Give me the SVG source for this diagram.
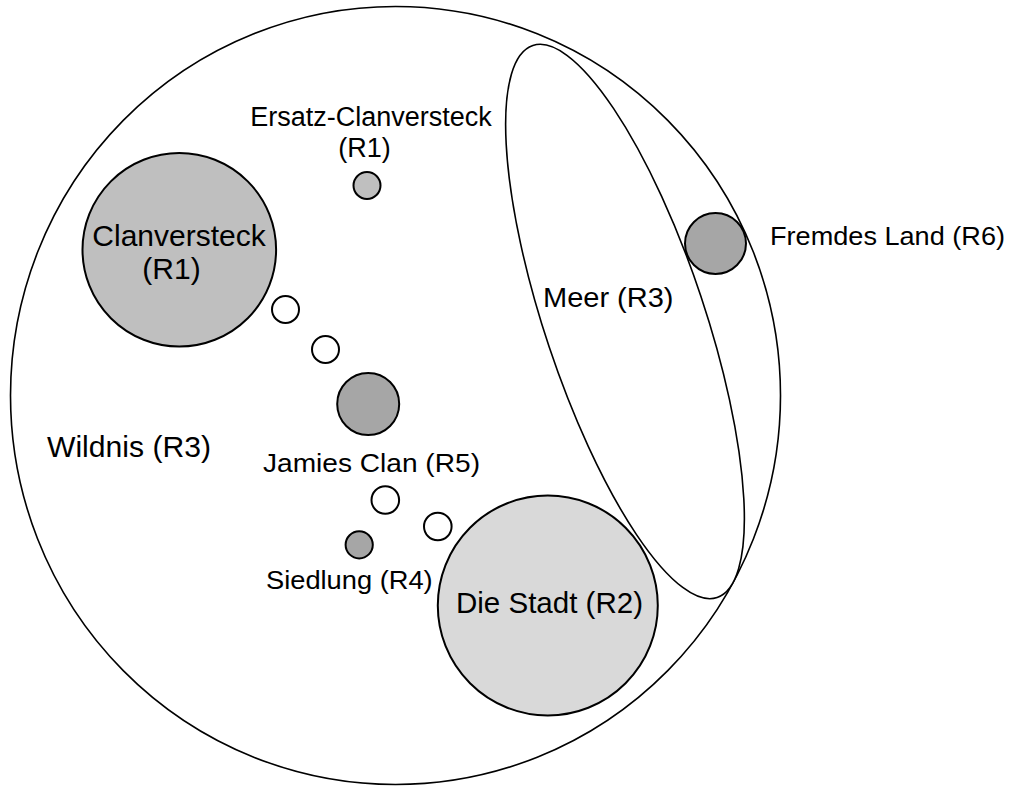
<svg xmlns="http://www.w3.org/2000/svg" width="1011" height="789" viewBox="0 0 1011 789">
<style>
.ln{stroke:#000;stroke-width:2;}
.thin{stroke-width:1.6;}
.w{fill:#fff;}
.g1{fill:#bfbfbf;}
.g2{fill:#a6a6a6;}
.g3{fill:#d9d9d9;}
text{font-family:"Liberation Sans",Arial,sans-serif;fill:#000;}
.c{text-anchor:middle;}
</style>
<rect width="1011" height="789" fill="#fff"/>
<g id="wildnis">
<ellipse class="ln thin w" cx="395.5" cy="395.5" rx="385" ry="389"/>
<text x="47" y="457.3" font-size="29.5" textLength="164" lengthAdjust="spacingAndGlyphs">Wildnis (R3)</text>
</g>
<g id="meer">
<ellipse class="ln thin w" cx="625" cy="321.5" rx="291" ry="80" transform="rotate(71.54 625 321.5)"/>
<text x="543" y="306.7" font-size="28.5" textLength="130.5" lengthAdjust="spacingAndGlyphs">Meer (R3)</text>
</g>
<g id="fremdes-land">
<circle class="ln g2" cx="715.5" cy="243.5" r="30.5"/>
<text x="770" y="245" font-size="25.5" textLength="235" lengthAdjust="spacingAndGlyphs">Fremdes Land (R6)</text>
</g>
<g id="clanversteck">
<circle class="ln g1" cx="179.3" cy="249.8" r="96.8"/>
<text class="c" x="179" y="246" font-size="30">Clanversteck</text>
<text class="c" x="171.5" y="279" font-size="30">(R1)</text>
</g>
<g id="ersatz-clanversteck">
<circle class="ln g1" cx="367" cy="185.5" r="13.5"/>
<text class="c" x="371" y="126" font-size="27">Ersatz-Clanversteck</text>
<text class="c" x="364.5" y="156.5" font-size="27">(R1)</text>
</g>
<g id="weg1"><circle class="ln w" cx="285.5" cy="309.5" r="13.5"/></g>
<g id="weg2"><circle class="ln w" cx="325.5" cy="349.5" r="13.5"/></g>
<g id="jamies-clan">
<circle class="ln g2" cx="368.2" cy="404" r="31"/>
<text x="263" y="471.7" font-size="26.5" textLength="217" lengthAdjust="spacingAndGlyphs">Jamies Clan (R5)</text>
</g>
<g id="weg3"><circle class="ln w" cx="385.3" cy="500" r="13.8"/></g>
<g id="weg4"><circle class="ln w" cx="437.8" cy="526.5" r="13.8"/></g>
<g id="siedlung">
<circle class="ln g2" cx="359.2" cy="544.8" r="13.6"/>
<text x="266" y="589.3" font-size="26.5" textLength="166.7" lengthAdjust="spacingAndGlyphs">Siedlung (R4)</text>
</g>
<g id="die-stadt">
<circle class="ln g3" cx="547.8" cy="605.5" r="110"/>
<text x="456" y="612.7" font-size="29.5" textLength="187" lengthAdjust="spacingAndGlyphs">Die Stadt (R2)</text>
</g>
<g id="connectors"/>
</svg>
